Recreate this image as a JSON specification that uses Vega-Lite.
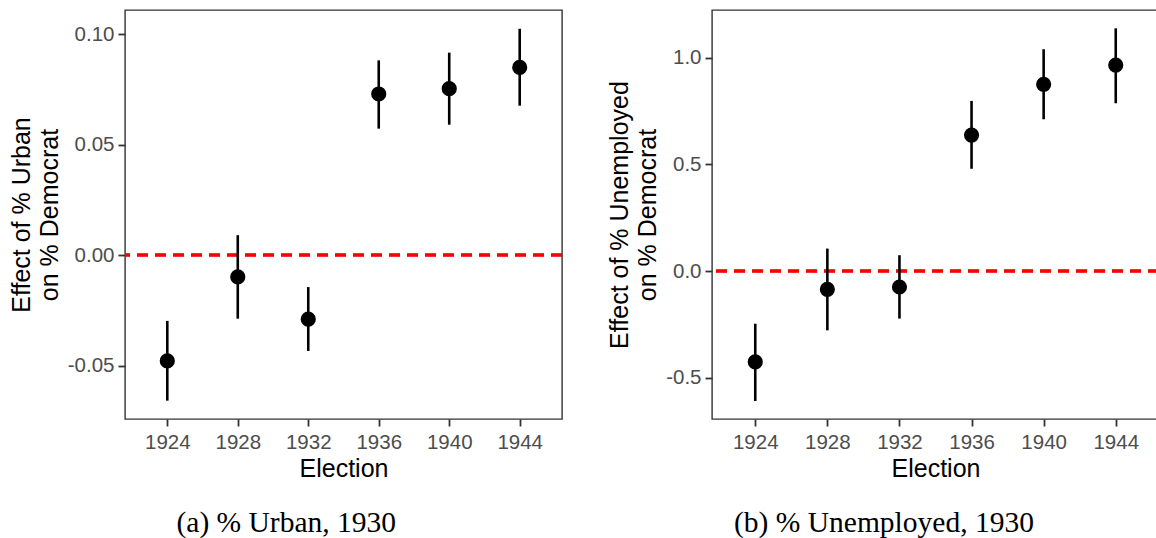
{
  "$schema": "https://vega.github.io/schema/vega-lite/v6.json",
  "padding": {"left": 8, "top": 9, "right": 0, "bottom": 0},
  "background": "white",
  "datasets": {
    "urban": [
      {"year": "1924", "est": -0.0479, "lo": -0.0659, "hi": -0.0298},
      {"year": "1928", "est": -0.0099, "lo": -0.0288, "hi": 0.0090},
      {"year": "1932", "est": -0.0290, "lo": -0.0434, "hi": -0.0145},
      {"year": "1936", "est": 0.0729, "lo": 0.0572, "hi": 0.0881},
      {"year": "1940", "est": 0.0753, "lo": 0.0590, "hi": 0.0916},
      {"year": "1944", "est": 0.0849, "lo": 0.0676, "hi": 0.1024}
    ],
    "unemp": [
      {"year": "1924", "est": -0.426, "lo": -0.609, "hi": -0.247},
      {"year": "1928", "est": -0.086, "lo": -0.278, "hi": 0.105},
      {"year": "1932", "est": -0.075, "lo": -0.223, "hi": 0.074},
      {"year": "1936", "est": 0.637, "lo": 0.479, "hi": 0.797},
      {"year": "1940", "est": 0.875, "lo": 0.711, "hi": 1.039},
      {"year": "1944", "est": 0.965, "lo": 0.786, "hi": 1.137}
    ]
  },
  "spacing": 42,
  "hconcat": [
    {
      "width": 437,
      "height": 409,
      "title": {"text": "(a) % Urban, 1930", "orient": "bottom", "frame": "bounds", "anchor": "middle", "offset": 27},
      "data": {"name": "urban"},
      "layer": [
        {
          "mark": {"type": "rule", "color": "#ff0000", "strokeWidth": 2.5, "strokeDash": [11, 7]},
          "encoding": {"y": {"datum": 0, "type": "quantitative"}}
        },
        {
          "mark": {"type": "rule", "color": "black", "strokeWidth": 2.6},
          "encoding": {
            "x": {"field": "year", "type": "ordinal", "scale": {"type": "point", "padding": 0.6}, "title": "Election"},
            "y": {"field": "lo", "type": "quantitative"},
            "y2": {"field": "hi"}
          }
        },
        {
          "mark": {"type": "point", "filled": true, "color": "black", "opacity": 1, "size": 230, "shape": "circle"},
          "encoding": {
            "x": {"field": "year", "type": "ordinal", "scale": {"type": "point", "padding": 0.6}, "title": "Election"},
            "y": {
              "field": "est", "type": "quantitative",
              "scale": {"domain": [-0.0742, 0.1109], "nice": false, "zero": false},
              "title": ["Effect of % Urban", "on % Democrat"],
              "axis": {"values": [-0.05, 0, 0.05, 0.1], "labelExpr": "datum.value < 0 ? '-' + format(-datum.value, '.2f') : format(datum.value, '.2f')"}
            }
          }
        }
      ]
    },
    {
      "width": 447,
      "height": 409,
      "title": {"text": "(b) % Unemployed, 1930", "orient": "bottom", "frame": "bounds", "anchor": "middle", "offset": 27},
      "data": {"name": "unemp"},
      "layer": [
        {
          "mark": {"type": "rule", "color": "#ff0000", "strokeWidth": 2.5, "strokeDash": [11, 7]},
          "encoding": {"y": {"datum": 0, "type": "quantitative"}}
        },
        {
          "mark": {"type": "rule", "color": "black", "strokeWidth": 2.6},
          "encoding": {
            "x": {"field": "year", "type": "ordinal", "scale": {"type": "point", "padding": 0.6}, "title": "Election"},
            "y": {"field": "lo", "type": "quantitative"},
            "y2": {"field": "hi"}
          }
        },
        {
          "mark": {"type": "point", "filled": true, "color": "black", "opacity": 1, "size": 230, "shape": "circle"},
          "encoding": {
            "x": {"field": "year", "type": "ordinal", "scale": {"type": "point", "padding": 0.6}, "title": "Election"},
            "y": {
              "field": "est", "type": "quantitative",
              "scale": {"domain": [-0.6935, 1.223], "nice": false, "zero": false},
              "title": ["Effect of % Unemployed", "on % Democrat"],
              "axis": {"values": [-0.5, 0, 0.5, 1], "labelExpr": "datum.value < 0 ? '-' + format(-datum.value, '.1f') : format(datum.value, '.1f')"}
            }
          }
        }
      ]
    }
  ],
  "config": {
    "font": "Liberation Sans",
    "view": {"stroke": "#333333", "strokeWidth": 1.4},
    "axis": {
      "grid": false,
      "domain": false,
      "ticks": true,
      "tickColor": "#333333",
      "tickWidth": 1.8,
      "tickSize": 7,
      "labelFont": "Liberation Sans",
      "labelFontSize": 20.5,
      "labelColor": "#4d4d4d",
      "labelPadding": 4,
      "titleFont": "Liberation Sans",
      "titleFontSize": 25,
      "titleFontWeight": "normal",
      "titleColor": "black",
      "titleLineHeight": 28
    },
    "axisX": {"titlePadding": 4, "labelPadding": 6, "labelAngle": 0, "labelAlign": "center", "labelBaseline": "top"},
    "axisY": {"titlePadding": 5},
    "title": {"font": "Liberation Serif", "fontSize": 29.5, "fontWeight": "normal", "color": "black"}
  }
}
